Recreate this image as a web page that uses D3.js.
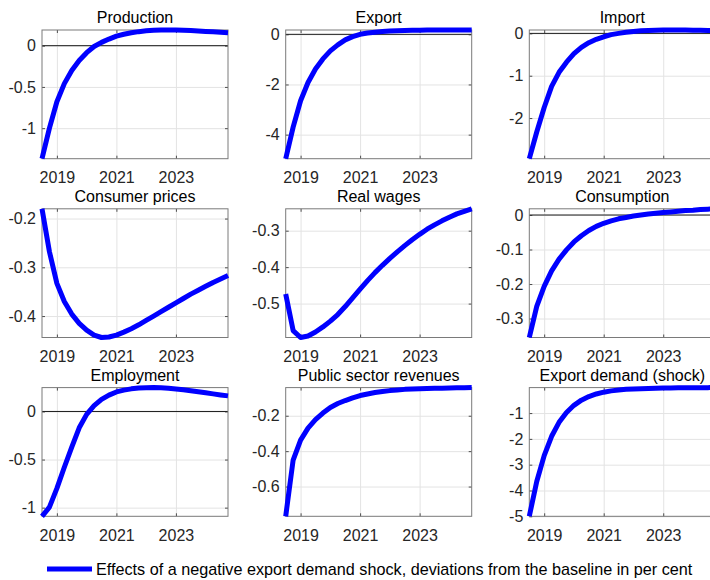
<!DOCTYPE html>
<html>
<head>
<meta charset="utf-8">
<script src="https://cdn.jsdelivr.net/npm/d3@7"></script>
<style>
  html, body { margin: 0; padding: 0; background: #fff; }
  svg { display: block; font-family: "Liberation Sans", Arial, sans-serif; }
</style>
</head>
<body>
<svg id="chart" width="710" height="580"></svg>
<script>
// Quarterly time axis (decimal years), 2018Q3 to 2024Q4
const quarters = [
  2018.5, 2018.75, 2019.0, 2019.25, 2019.5, 2019.75, 2020.0, 2020.25, 2020.5, 2020.75,
  2021.0, 2021.25, 2021.5, 2021.75, 2022.0, 2022.25, 2022.5, 2022.75, 2023.0, 2023.25,
  2023.5, 2023.75, 2024.0, 2024.25, 2024.5, 2024.75
];
const xTickYears = [2019, 2021, 2023];

const titles = [
  "Production", "Export", "Import",
  "Consumer prices", "Real wages", "Consumption",
  "Employment", "Public sector revenues", "Export demand (shock)"
];

// Deviations from baseline, per cent
const production = [-1.37, -1.0, -0.68, -0.46, -0.30, -0.18, -0.085, -0.01, 0.04, 0.08,
  0.115, 0.138, 0.156, 0.17, 0.18, 0.187, 0.19, 0.19, 0.19, 0.187,
  0.183, 0.178, 0.173, 0.168, 0.163, 0.158];
const exportSeries = [-4.96, -3.7, -2.65, -1.92, -1.38, -0.98, -0.66, -0.42, -0.22, -0.09,
  0.0, 0.05, 0.085, 0.11, 0.13, 0.145, 0.155, 0.162, 0.166, 0.169,
  0.171, 0.172, 0.173, 0.173, 0.173, 0.172];
const importSeries = [-2.96, -2.33, -1.75, -1.25, -0.92, -0.68, -0.48, -0.33, -0.22, -0.14,
  -0.08, -0.03, 0.0, 0.025, 0.045, 0.06, 0.07, 0.075, 0.08, 0.08,
  0.08, 0.078, 0.075, 0.072, 0.068, 0.065];
const consumerPrices = [-0.18, -0.268, -0.333, -0.37, -0.396, -0.415, -0.429, -0.439, -0.444, -0.443,
  -0.439, -0.433, -0.426, -0.418, -0.409, -0.400, -0.391, -0.382, -0.373, -0.364,
  -0.355, -0.347, -0.339, -0.331, -0.324, -0.317];
const realWages = [-0.474, -0.574, -0.593, -0.589, -0.578, -0.564, -0.548, -0.530, -0.508, -0.484,
  -0.460, -0.437, -0.415, -0.395, -0.376, -0.358, -0.341, -0.325, -0.310, -0.296,
  -0.284, -0.273, -0.263, -0.254, -0.247, -0.240];
const consumption = [-0.355, -0.265, -0.207, -0.162, -0.128, -0.101, -0.078, -0.06, -0.045, -0.033,
  -0.024, -0.017, -0.011, -0.007, -0.003, 0.0, 0.003, 0.005, 0.007, 0.009,
  0.011, 0.013, 0.014, 0.016, 0.017, 0.018];
const employment = [-1.09, -0.995, -0.80, -0.58, -0.37, -0.17, -0.03, 0.06, 0.125, 0.17,
  0.203, 0.222, 0.235, 0.243, 0.247, 0.248, 0.246, 0.241, 0.234, 0.225,
  0.215, 0.205, 0.194, 0.183, 0.172, 0.162];
const publicRevenues = [-0.768, -0.45, -0.338, -0.27, -0.222, -0.185, -0.153, -0.131, -0.114, -0.099,
  -0.086, -0.077, -0.069, -0.063, -0.058, -0.054, -0.051, -0.049, -0.047, -0.046,
  -0.045, -0.044, -0.043, -0.042, -0.0415, -0.041];
const exportDemand = [-5.0, -3.65, -2.65, -1.9, -1.36, -0.98, -0.70, -0.50, -0.36, -0.26,
  -0.19, -0.14, -0.105, -0.08, -0.065, -0.053, -0.044, -0.037, -0.031, -0.027,
  -0.023, -0.02, -0.018, -0.016, -0.014, -0.013];

// Y tick values for each panel
const yTicksProduction = [-1, -0.5, 0];
const yTicksExport = [-4, -2, 0];
const yTicksImport = [-2, -1, 0];
const yTicksConsumerPrices = [-0.4, -0.3, -0.2];
const yTicksRealWages = [-0.5, -0.4, -0.3];
const yTicksConsumption = [-0.3, -0.2, -0.1, 0];
const yTicksEmployment = [-1, -0.5, 0];
const yTicksPublic = [-0.6, -0.4, -0.2];
const yTicksExportDemand = [-5, -4, -3, -2, -1];

const legendLabel = "Effects of a negative export demand shock, deviations from the baseline in per cent";

const panels = [
  { values: production, yTicks: yTicksProduction },
  { values: exportSeries, yTicks: yTicksExport },
  { values: importSeries, yTicks: yTicksImport },
  { values: consumerPrices, yTicks: yTicksConsumerPrices },
  { values: realWages, yTicks: yTicksRealWages },
  { values: consumption, yTicks: yTicksConsumption },
  { values: employment, yTicks: yTicksEmployment },
  { values: publicRevenues, yTicks: yTicksPublic },
  { values: exportDemand, yTicks: yTicksExportDemand }
].map((p, i) => ({ ...p, title: titles[i] }));

// Grid layout of the small multiples
const colLeft = [42, 285.7, 529.3];
const rowTop = [30, 208.8, 387.6];
const panelW = 186, panelH = 128.7;
const fontSize = 16;
const axisColor = "#262626";
const lineBlue = "#0000ff";

const svg = d3.select("#chart");
svg.append("rect").attr("width", 710).attr("height", 580).attr("fill", "#fff");

const fmt = d => String(d);

panels.forEach((p, i) => {
  const col = i % 3, row = Math.floor(i / 3);
  const g = svg.append("g")
    .attr("transform", `translate(${colLeft[col]},${rowTop[row]})`);

  const x = d3.scaleLinear().domain(d3.extent(quarters)).range([0, panelW]);
  const y = d3.scaleLinear().domain(d3.extent(p.values)).range([panelH, 0]);

  // light grid
  const grid = g.append("g").attr("class", "grid");
  grid.append("g")
    .call(d3.axisBottom(x).tickValues(xTickYears).tickSize(panelH).tickFormat(""))
    .call(s => s.select(".domain").remove());
  grid.append("g")
    .call(d3.axisLeft(y).tickValues(p.yTicks).tickSize(-panelW).tickFormat(""))
    .call(s => s.select(".domain").remove());
  grid.selectAll("line").attr("stroke", "#e3e3e3").attr("stroke-width", 1);

  // zero reference line when zero is inside the range
  const [y0, y1] = y.domain();
  if (y0 <= 0 && y1 >= 0) {
    g.append("line")
      .attr("x1", 0).attr("x2", panelW)
      .attr("y1", y(0)).attr("y2", y(0))
      .attr("stroke", "#1a1a1a").attr("stroke-width", 1);
  }

  // axes: labels on left/bottom, inward ticks on all four sides
  const axes = g.append("g").attr("class", "axes");
  axes.append("g")
    .call(d3.axisLeft(y).tickValues(p.yTicks).tickSize(-3).tickPadding(6).tickFormat(fmt));
  axes.append("g").attr("transform", `translate(${panelW},0)`)
    .call(d3.axisRight(y).tickValues(p.yTicks).tickSize(-3).tickFormat(""));
  axes.append("g").attr("transform", `translate(0,${panelH})`)
    .call(d3.axisBottom(x).tickValues(xTickYears).tickSize(-3).tickPadding(13).tickFormat(fmt));
  axes.append("g")
    .call(d3.axisTop(x).tickValues(xTickYears).tickSize(-3).tickFormat(""));
  axes.selectAll(".domain").remove();
  axes.selectAll("line").attr("stroke", axisColor).attr("stroke-width", 0.8);
  axes.selectAll("text")
    .attr("fill", axisColor)
    .attr("font-size", fontSize)
    .attr("font-family", "Liberation Sans, Arial, sans-serif");

  // frame
  g.append("rect")
    .attr("width", panelW).attr("height", panelH)
    .attr("fill", "none").attr("stroke", "#7a7a7a").attr("stroke-width", 1);

  // series line
  const line = d3.line().x((d, k) => x(quarters[k])).y(d => y(d));
  g.append("path")
    .datum(p.values)
    .attr("d", line)
    .attr("fill", "none")
    .attr("stroke", lineBlue)
    .attr("stroke-width", 5)
    .attr("stroke-linejoin", "round");

  // title
  g.append("text")
    .attr("x", panelW / 2).attr("y", -7)
    .attr("text-anchor", "middle")
    .attr("font-size", fontSize)
    .attr("fill", "#000")
    .text(p.title);
});

// legend
const legend = svg.append("g").attr("transform", "translate(47,569)");
legend.append("line")
  .attr("x1", 0).attr("x2", 45).attr("y1", 0).attr("y2", 0)
  .attr("stroke", lineBlue).attr("stroke-width", 5);
legend.append("text")
  .attr("x", 49).attr("y", 0).attr("dy", "0.35em")
  .attr("font-size", 16.2)
  .attr("fill", "#000")
  .text(legendLabel);
</script>
</body>
</html>
